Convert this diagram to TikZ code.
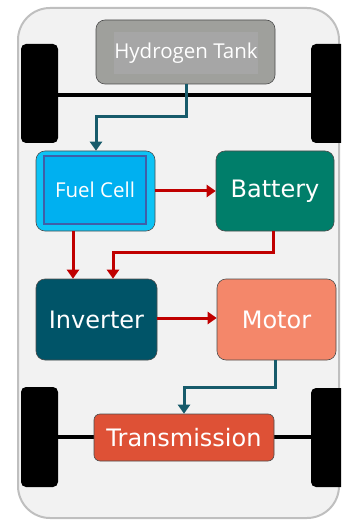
\documentclass[tikz,border=0pt]{standalone}
\usepackage{fontspec}
\setmainfont{DejaVu Sans}
\newfontfamily\smallfont{Open Sans}
\usetikzlibrary{arrows.meta}
\definecolor{bodyfill}{HTML}{F2F2F2}
\definecolor{bodyline}{HTML}{BFBFBF}
\definecolor{tankfill}{HTML}{9FA09C}
\definecolor{tankinner}{HTML}{A6A6A6}
\definecolor{teal}{HTML}{175B6B}
\definecolor{fuelout}{HTML}{0DC3F5}
\definecolor{fuelin}{HTML}{00B0F0}
\definecolor{fuelline}{HTML}{3F5FA8}
\definecolor{battfill}{HTML}{007E6A}
\definecolor{invfill}{HTML}{005468}
\definecolor{motfill}{HTML}{F4876A}
\definecolor{trfill}{HTML}{DE5136}
\definecolor{redarrow}{HTML}{C00000}
\tikzset{
  box/.style={draw=black!70, line width=0.6pt, rounded corners=9pt, inner sep=0pt, text=white},
  bigtext/.style={font=\fontsize{24}{26}\selectfont},
  wheel/.style={fill=black, rounded corners=5pt},
  axle/.style={line width=4pt, black},
  tealarrow/.style={draw=teal, line width=3pt, -{Triangle[length=9pt,width=12pt]}},
  redarr/.style={draw=redarrow, line width=3pt, -{Triangle[length=9pt,width=12pt]}},
}
\begin{document}
\begin{tikzpicture}[x=1pt,y=-1pt]
\useasboundingbox (0,0) rectangle (341,521);
\begin{scope}
\clip (0,0) rectangle (341,521);
% car body
\draw[fill=bodyfill, draw=bodyline, line width=2pt, rounded corners=32pt] (18,8) rectangle (339,518);
% axles
\draw[axle] (40,95) -- (320,95);
\draw[axle] (40,437) -- (320,437);
% wheels
\fill[wheel] (21,44) rectangle (58,143);
\fill[wheel] (311,44) rectangle (350,143);
\fill[wheel] (21,387) rectangle (58,487);
\fill[wheel] (311,388) rectangle (350,487);
\end{scope}
% Hydrogen tank
\node[box, fill=tankfill, minimum width=179pt, minimum height=64pt] (tank) at (185.5,52) {};
\node[fill=tankinner, minimum width=138pt, minimum height=42pt, inner sep=0pt] (tanklab) at (186,53) {\smallfont\fontsize{20.5}{22}\selectfont\color{white}Hydrogen Tank};
% Fuel cell
\node[box, fill=fuelout, minimum width=119pt, minimum height=80pt] (fuel) at (95.5,191) {};
\node[draw=fuelline, line width=1.2pt, fill=fuelin, minimum width=102pt, minimum height=68pt, inner sep=0pt] (fuellab) at (95,190) {\smallfont\fontsize{20.5}{22}\selectfont\color{white}Fuel Cell};
% Battery
\node[box, fill=battfill, minimum width=118pt, minimum height=80pt, bigtext] (batt) at (275,191) {Battery};
% Inverter
\node[box, fill=invfill, minimum width=121pt, minimum height=81pt, bigtext] (inv) at (96.5,319.5) {Inverter};
% Motor
\node[box, fill=motfill, minimum width=119pt, minimum height=81pt, bigtext] (mot) at (276.5,319.5) {Motor};
% Transmission
\node[box, fill=trfill, rounded corners=6pt, minimum width=180pt, minimum height=47pt, bigtext] (tr) at (184,437.5) {Transmission};
% connectors
\draw[tealarrow] (tank.south -| 186,0) -- (186,117) -- (96,117) -- (fuel.north -| 96,0);
\draw[redarr] (fuel.east |- 0,191) -- (batt.west |- 0,191);
\draw[redarr] (fuel.south -| 73,0) -- (inv.north -| 73,0);
\draw[redarr] (batt.south -| 273,0) -- (273,252) -- (113,252) -- (inv.north -| 113,0);
\draw[redarr] (inv.east |- 0,318) -- (mot.west |- 0,318);
\draw[tealarrow] (mot.south -| 275,0) -- (275,387) -- (184,387) -- (tr.north);
\end{tikzpicture}
\end{document}
